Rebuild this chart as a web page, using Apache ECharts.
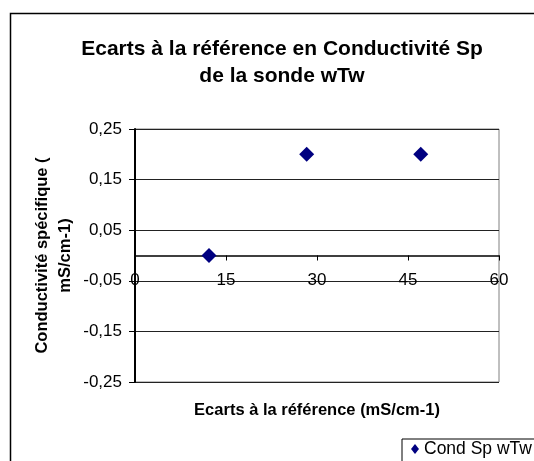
<!DOCTYPE html>
<html>
<head>
<meta charset="utf-8">
<script src="https://cdn.jsdelivr.net/npm/echarts@6/dist/echarts.min.js"></script>
<style>
  html, body { margin: 0; padding: 0; background: #fff; }
  #main { width: 534px; height: 461px; }
</style>
</head>
<body>
<div id="main"></div>
<script>
// données
var ecartsRef = [12.2, 28.3, 47.1];
var condSp = [0, 0.2, 0.2];
var seriesName = 'Cond Sp wTw';

var font = 'Liberation Sans, Arial, sans-serif';

var chart = echarts.init(document.getElementById('main'));

var option = {
  animation: false,
  backgroundColor: '#fff',
  textStyle: { fontFamily: font },
  title: {
    text: 'Ecarts à la référence en Conductivité Sp\nde la sonde wTw',
    left: 277,
    top: 31,
    textAlign: 'center',
    textStyle: {
      fontFamily: font,
      fontSize: 21,
      fontWeight: 'bold',
      color: '#000',
      lineHeight: 27
    }
  },
  graphic: [{
    type: 'rect',
    shape: { x: 10.5, y: 13.5, width: 540, height: 470 },
    style: { fill: 'none', stroke: '#000', lineWidth: 1.5 },
    z: -1
  }],
  legend: {
    data: [seriesName],
    left: 402,
    top: 439,
    padding: [1, 8, 4, 9],
    borderColor: '#000',
    borderWidth: 1,
    icon: 'diamond',
    itemWidth: 8,
    itemHeight: 10,
    textStyle: { fontFamily: font, fontSize: 17.5, color: '#000' }
  },
  grid: {
    left: 135,
    top: 129,
    width: 364,
    height: 253,
    outerBoundsMode: 'none',
    containLabel: false,
    show: true,
    borderColor: '#808080',
    borderWidth: 1
  },
  xAxis: {
    type: 'value',
    min: 0,
    max: 60,
    interval: 15,
    name: 'Ecarts à la référence (mS/cm-1)',
    nameLocation: 'middle',
    nameGap: 20,
    nameTextStyle: { fontFamily: font, fontSize: 16.5, fontWeight: 'bold', color: '#000' },
    axisLine: { onZero: true, lineStyle: { color: '#000', width: 1.5 } },
    axisTick: { show: true, length: 5, lineStyle: { color: '#000' } },
    axisLabel: { margin: -110, fontFamily: font, fontSize: 17, color: '#000' },
    splitLine: { show: false }
  },
  yAxis: {
    type: 'value',
    min: -0.25,
    max: 0.25,
    interval: 0.1,
    name: 'Conductivité spécifique (\nmS/cm-1)',
    nameLocation: 'middle',
    nameRotate: 90,
    nameGap: 58,
    nameMoveOverlap: false,
    nameTextStyle: { fontFamily: font, fontSize: 16.5, fontWeight: 'bold', color: '#000', lineHeight: 23 },
    axisLine: { onZero: false, lineStyle: { color: '#000', width: 2 } },
    axisTick: { show: true, length: 6, lineStyle: { color: '#000' } },
    axisLabel: {
      margin: 13,
      fontFamily: font,
      fontSize: 17,
      color: '#000',
      formatter: function (v) { return v.toFixed(2).replace('.', ','); }
    },
    splitLine: { show: true, lineStyle: { color: '#222', width: 1 } }
  },
  series: [{
    name: seriesName,
    type: 'scatter',
    symbol: 'diamond',
    symbolSize: 15,
    itemStyle: { color: '#000080', opacity: 1 },
    data: ecartsRef.map(function (x, i) { return [x, condSp[i]]; })
  }]
};

chart.setOption(option);
</script>
</body>
</html>
